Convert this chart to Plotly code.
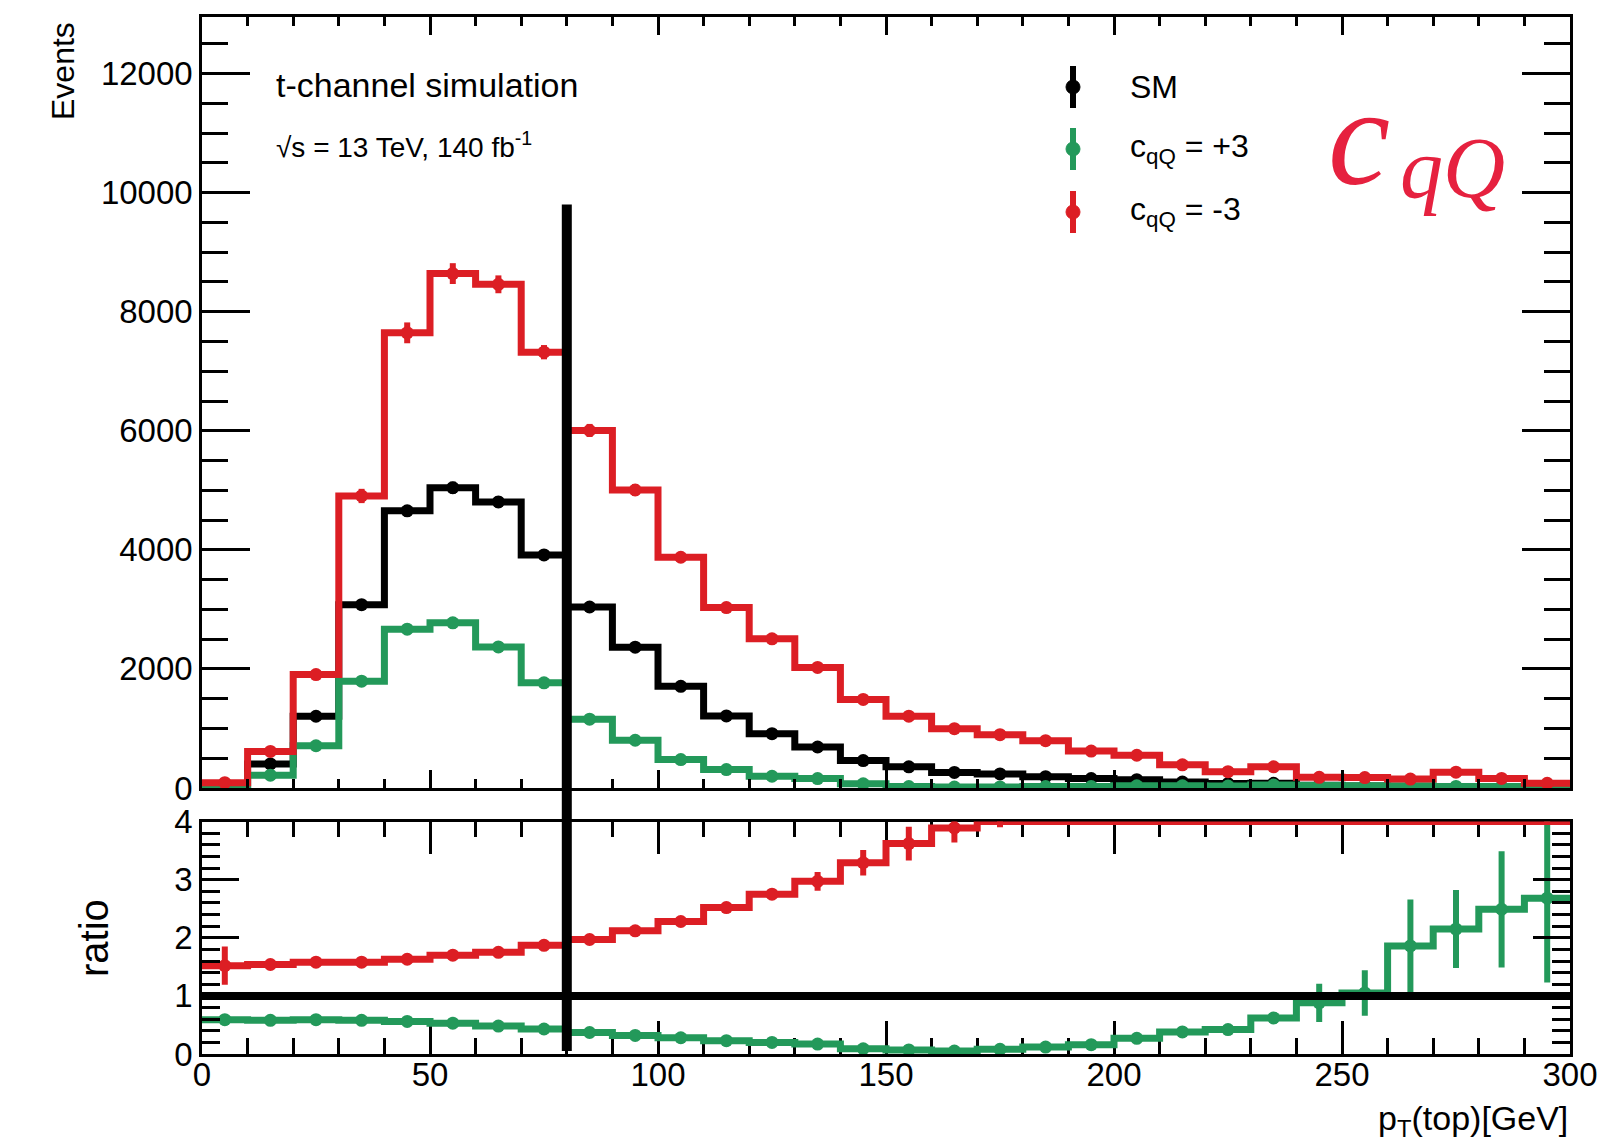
import numpy as np
import plotly.graph_objects as go

# ---------------- data ----------------
bin_edges = list(range(0, 310, 10))
bin_centers = [5 + 10 * i for i in range(30)]

sm_events = [55, 405, 1205, 3080, 4655, 5045, 4805, 3915, 3040, 2365,
             1708, 1210, 913, 689, 460, 355, 262, 236, 190, 158,
             140, 100, 75, 80, 45, 35, 20, 12, 10, 8]
sm_err = [10, 30, 50, 80, 95, 100, 95, 85, 75, 65,
          55, 45, 40, 35, 28, 25, 22, 20, 18, 16,
          15, 13, 11, 11, 9, 8, 6, 5, 4, 4]

cqq_p3_events = [20, 215, 710, 1795, 2667, 2775, 2370, 1766, 1156, 802,
                 477, 309, 197, 158, 70, 25, 15, 18, 24, 25,
                 38, 38, 32, 50, 40, 37, 37, 26, 25, 21]
cqq_p3_err = [8, 25, 45, 70, 90, 95, 85, 70, 60, 50,
              40, 30, 25, 22, 15, 10, 8, 9, 10, 10,
              12, 12, 11, 13, 12, 12, 14, 12, 12, 11]

cqq_m3_events = [90, 615, 1905, 4905, 7645, 8640, 8460, 7320, 6005, 5005,
                 3876, 3030, 2506, 2025, 1487, 1206, 996, 895, 795, 620,
                 550, 390, 275, 355, 180, 175, 150, 265, 160, 80]
cqq_m3_err = [15, 45, 80, 120, 175, 175, 150, 120, 110, 100,
              85, 75, 65, 60, 50, 45, 40, 38, 35, 30,
              28, 25, 20, 22, 16, 16, 14, 20, 14, 10]

ratio_p3 = [0.59, 0.58, 0.59, 0.58, 0.56, 0.53, 0.48, 0.43, 0.37, 0.32,
            0.28, 0.23, 0.20, 0.17, 0.09, 0.07, 0.05, 0.08, 0.12, 0.16,
            0.27, 0.38, 0.42, 0.62, 0.88, 1.05, 1.86, 2.15, 2.49, 2.68]
ratio_p3_err = [0.03, 0.02, 0.02, 0.02, 0.02, 0.02, 0.02, 0.02, 0.02, 0.02,
                0.02, 0.02, 0.02, 0.02, 0.02, 0.02, 0.02, 0.02, 0.03, 0.03,
                0.04, 0.05, 0.06, 0.10, 0.33, 0.39, 0.80, 0.67, 1.00, 1.45]

ratio_m3 = [1.52, 1.54, 1.58, 1.58, 1.63, 1.70, 1.75, 1.87, 1.97, 2.12,
            2.28, 2.52, 2.75, 2.97, 3.29, 3.62, 3.89, 4.2, 4.4, 4.7,
            5.0, 4.8, 4.6, 5.6, 4.9, 5.0, 5.3, 7.5, 6.5, 5.5]
ratio_m3_err = [0.33, 0.05, 0.04, 0.03, 0.03, 0.03, 0.03, 0.04, 0.04, 0.05,
                0.06, 0.07, 0.08, 0.16, 0.22, 0.29, 0.25, 0.3, 0.3, 0.35,
                0.4, 0.4, 0.5, 0.6, 0.8, 0.8, 1.0, 1.5, 1.5, 1.5]

ratio_sm = [1.0] * 30

cut_x = 80
cut_top = 9800

x_ticks = [0, 50, 100, 150, 200, 250, 300]
y_ticks_top = [0, 2000, 4000, 6000, 8000, 10000, 12000]
y_ticks_ratio = [0, 1, 2, 3, 4]

legend_labels = ["SM", "c<sub>qQ</sub> = +3", "c<sub>qQ</sub> = -3"]

# ---------------- styling ----------------
W, H = 1604, 1145
ML, MR, MT, MB = 202, 34, 17, 91
PW, PH = W - ML - MR, H - MT - MB
TOP_DOM0 = (H - MB - 788) / PH
RAT_DOM1 = (H - MB - 821.5) / PH
YMAX_TOP = 12950
YMAX_RAT = 4.0

BLACK = "#000000"
GREEN = "#23995A"
RED = "#DC1E24"
LABEL_RED = "#E6213F"
FONT = "Liberation Sans, Arial, Helvetica, sans-serif"
SERIF = "Liberation Serif, DejaVu Serif, serif"
LW = 7
MS = 13


def px2x(px):
    return (px - ML) / PW


def py2y(py):
    return (H - MB - py) / PH


def step(vals):
    return list(vals) + [vals[-1]]


fig = go.Figure()

series = [
    (sm_events, sm_err, BLACK),
    (cqq_p3_events, cqq_p3_err, GREEN),
    (cqq_m3_events, cqq_m3_err, RED),
]
for vals, err, col in series:
    fig.add_trace(go.Scatter(x=bin_edges, y=step(vals), mode="lines",
                             line=dict(shape="hv", color=col, width=LW),
                             xaxis="x", yaxis="y", showlegend=False, hoverinfo="skip"))
    fig.add_trace(go.Scatter(x=bin_centers, y=vals, mode="markers",
                             marker=dict(size=MS, color=col),
                             error_y=dict(type="data", array=err, thickness=6, width=0, color=col),
                             xaxis="x", yaxis="y", showlegend=False))

ratio_series = [
    (ratio_p3, ratio_p3_err, GREEN),
    (ratio_m3, ratio_m3_err, RED),
]
for vals, err, col in ratio_series:
    clipped = np.minimum(np.array(vals), YMAX_RAT).tolist()
    fig.add_trace(go.Scatter(x=bin_edges, y=step(clipped), mode="lines",
                             line=dict(shape="hv", color=col, width=LW),
                             xaxis="x2", yaxis="y2", showlegend=False, hoverinfo="skip"))
    fig.add_trace(go.Scatter(x=bin_centers, y=vals, mode="markers",
                             marker=dict(size=MS, color=col),
                             error_y=dict(type="data", array=err, thickness=6, width=0, color=col),
                             xaxis="x2", yaxis="y2", showlegend=False))

fig.add_trace(go.Scatter(x=bin_edges, y=step(ratio_sm), mode="lines",
                         line=dict(shape="hv", color=BLACK, width=8),
                         xaxis="x2", yaxis="y2", showlegend=False, hoverinfo="skip"))

axis_common = dict(showline=True, linewidth=2.5, linecolor="black", mirror="allticks",
                   ticks="inside", tickwidth=2.5, tickcolor="black", showgrid=False,
                   zeroline=False, automargin=False,
                   tickfont=dict(family=FONT, size=33, color="black"))

fig.update_layout(
    width=W, height=H,
    margin=dict(l=ML, r=MR, t=MT, b=MB, pad=0),
    paper_bgcolor="white", plot_bgcolor="white",
    showlegend=False,
    xaxis=dict(domain=[0, 1], anchor="y", range=[0, 300], tickvals=x_ticks,
               showticklabels=False, ticklen=18,
               minor=dict(ticks="inside", ticklen=9, tickwidth=2.5, dtick=10, tick0=0, tickcolor="black"),
               **axis_common),
    yaxis=dict(domain=[TOP_DOM0, 1], anchor="x", range=[0, YMAX_TOP], tickvals=y_ticks_top,
               tickformat="d", ticklen=48,
               minor=dict(ticks="inside", ticklen=26, tickwidth=2.5, dtick=500, tick0=0, tickcolor="black"),
               **axis_common),
    xaxis2=dict(domain=[0, 1], anchor="y2", range=[0, 300], tickvals=x_ticks, ticklen=33,
                ticklabelstandoff=-10, layer="below traces",
                minor=dict(ticks="inside", ticklen=16, tickwidth=2.5, dtick=10, tick0=0, tickcolor="black"),
                **axis_common),
    yaxis2=dict(domain=[0, RAT_DOM1], anchor="x2", range=[0, YMAX_RAT], tickvals=y_ticks_ratio,
                ticklen=37,
                minor=dict(ticks="inside", ticklen=18, tickwidth=2.5, dtick=0.2, tick0=0, tickcolor="black"),
                **axis_common),
)

# vertical cut line spanning both panels
fig.add_shape(type="line", xref="x", yref="paper", x0=cut_x, x1=cut_x,
              y0=py2y(1051), y1=TOP_DOM0 + cut_top / YMAX_TOP * (1 - TOP_DOM0),
              line=dict(color="black", width=10), layer="above")

# legend (manual, ROOT style: marker with vertical error bar)
leg_colors = [BLACK, GREEN, RED]
leg_rows = [87, 149, 212]
for lab, col, ry in zip(legend_labels, leg_colors, leg_rows):
    fig.add_shape(type="line", xref="paper", yref="paper",
                  x0=px2x(1073), x1=px2x(1073), y0=py2y(ry - 21), y1=py2y(ry + 21),
                  line=dict(color=col, width=6))
    fig.add_shape(type="circle", xref="paper", yref="paper",
                  x0=px2x(1066), x1=px2x(1080), y0=py2y(ry + 7), y1=py2y(ry - 7),
                  fillcolor=col, line=dict(color=col, width=1))
    fig.add_annotation(text=lab, xref="paper", yref="paper", x=px2x(1128), y=py2y(ry),
                       xanchor="left", yanchor="middle", showarrow=False,
                       font=dict(family=FONT, size=32, color="black"))

# texts
fig.add_annotation(text="t-channel simulation", xref="paper", yref="paper",
                   x=px2x(274), y=py2y(85), xanchor="left", yanchor="middle", showarrow=False,
                   font=dict(family=FONT, size=34, color="black"))
fig.add_annotation(text="\u221As = 13 TeV, 140 fb<sup>-1</sup>", xref="paper", yref="paper",
                   x=px2x(274), y=py2y(145), xanchor="left", yanchor="middle", showarrow=False,
                   font=dict(family=FONT, size=28, color="black"))
fig.add_annotation(text="Events", xref="paper", yref="paper", textangle=-90,
                   x=px2x(63), y=py2y(20), xanchor="center", yanchor="top", showarrow=False,
                   font=dict(family=FONT, size=32, color="black"))
fig.add_annotation(text="ratio", xref="paper", yref="paper", textangle=-90,
                   x=px2x(94), y=py2y(938), xanchor="center", yanchor="middle", showarrow=False,
                   font=dict(family=FONT, size=40, color="black"))
fig.add_annotation(text="p<sub>T</sub>(top)[GeV]", xref="paper", yref="paper",
                   x=1, y=py2y(1120), xanchor="right", yanchor="middle", showarrow=False,
                   font=dict(family=FONT, size=34, color="black"))

# big coefficient label
fig.add_annotation(text="<i>c</i>", xref="paper", yref="paper",
                   x=px2x(1326), y=py2y(137), xanchor="left", yanchor="middle", showarrow=False,
                   font=dict(family=SERIF, size=140, color=LABEL_RED))
fig.add_annotation(text="<i>qQ</i>", xref="paper", yref="paper",
                   x=px2x(1398), y=py2y(168), xanchor="left", yanchor="middle", showarrow=False,
                   font=dict(family=SERIF, size=86, color=LABEL_RED))

fig.write_html("out.html")
